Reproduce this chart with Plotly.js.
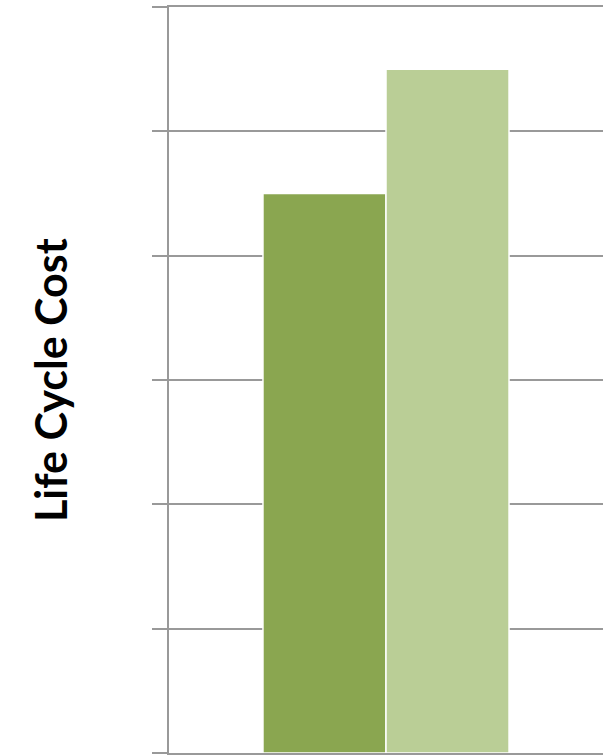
<!DOCTYPE html>
<html>
<head>
<meta charset="utf-8">
<script src="https://cdn.plot.ly/plotly-3.0.1.min.js"></script>
<style>
  html, body { margin: 0; padding: 0; background: #fff; }
  #chart { width: 608px; height: 755px; }
</style>
</head>
<body>
<div id="chart"></div>
<script>
const categories = ['Life Cycle Cost'];
const seriesNames = ['Option 1', 'Option 2'];
const seriesA = [4.5];
const seriesB = [5.5];
const yTicks = [0, 1, 2, 3, 4, 5, 6];

const traces = [
  {
    type: 'bar', x: categories, y: seriesA, name: seriesNames[0],
    marker: { color: 'rgb(138,166,80)', line: { color: '#ffffff', width: 1.5 } },
    hoverinfo: 'y'
  },
  {
    type: 'bar', x: categories, y: seriesB, name: seriesNames[1],
    marker: { color: 'rgb(186,206,150)', line: { color: '#ffffff', width: 1.5 } },
    hoverinfo: 'y'
  }
];

const layout = {
  width: 608, height: 755,
  margin: { l: 169, r: 5, t: 7, b: 2, pad: 0 },
  paper_bgcolor: '#ffffff', plot_bgcolor: '#ffffff',
  showlegend: false,
  barmode: 'group',
  bargap: 0.433,
  bargroupgap: 0,
  xaxis: {
    showticklabels: false, showgrid: false, zeroline: false,
    showline: true, mirror: true, linecolor: '#999999', linewidth: 2, ticks: ''
  },
  yaxis: {
    range: [0, 6], tickvals: yTicks, showticklabels: false,
    showgrid: true, gridcolor: '#999999', gridwidth: 2,
    zeroline: false,
    showline: true, linecolor: '#999999', linewidth: 2,
    ticks: 'outside', ticklen: 15, tickwidth: 2, tickcolor: '#999999'
  },
  annotations: [{
    text: '<b>Life Cycle Cost</b>',
    xref: 'paper', yref: 'paper',
    x: (50 - 169) / 434, y: 0.5,
    xanchor: 'center', yanchor: 'middle',
    textangle: -90, showarrow: false,
    font: { family: 'Lato, "Open Sans", sans-serif', size: 43, color: '#000000' }
  }]
};

Plotly.newPlot('chart', traces, layout, { displayModeBar: false, staticPlot: true });
</script>
</body>
</html>
